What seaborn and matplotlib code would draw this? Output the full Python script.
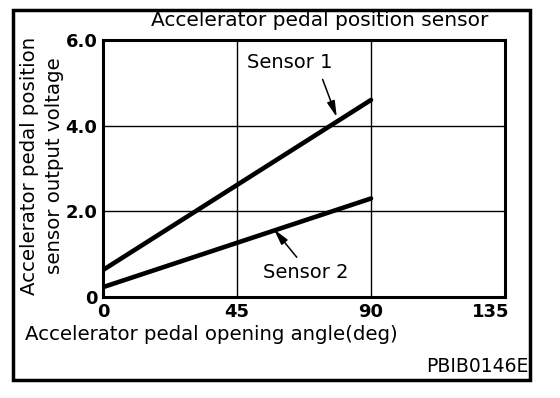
import numpy as np
import pandas as pd
import seaborn as sns
import matplotlib.pyplot as plt
from matplotlib.patches import Rectangle
from matplotlib.transforms import ScaledTranslation

# data
angle = [0, 90]
sensor1 = [0.63, 4.6]
sensor2 = [0.23, 2.3]
xticks = [0, 45, 90, 135]
yticks = [0, 2, 4, 6]
ytick_labels = ['0', '2.0', '4.0', '6.0']

df = pd.DataFrame({'angle': angle * 2,
                   'voltage': sensor1 + sensor2,
                   'sensor': ['Sensor 1'] * 2 + ['Sensor 2'] * 2})

sns.set_style('white')
plt.rcParams['font.family'] = ['DejaVu Sans']
plt.rcParams['text.color'] = 'black'
plt.rcParams['xtick.color'] = 'black'
plt.rcParams['ytick.color'] = 'black'

fig = plt.figure(figsize=(5.6, 3.98), dpi=100)
ax = fig.add_axes([103 / 560, 1 - 297 / 398, 402 / 560, 257 / 398])

sns.lineplot(data=df, x='angle', y='voltage', units='sensor', estimator=None,
             color='black', linewidth=3.3, ax=ax, legend=False)

ax.set_xlim(0, 135)
ax.set_ylim(0, 6)
ax.set_xticks(xticks)
ax.set_yticks(yticks)
ax.set_xticklabels([str(t) for t in xticks], fontsize=13, fontweight='bold')
ax.set_yticklabels(ytick_labels, fontsize=13, fontweight='bold')
ax.tick_params(length=0, pad=4)
ax.set_xlabel('')
ax.set_ylabel('')
ax.grid(True, color='black', linewidth=1)
for s in ax.spines.values():
    s.set_color('black')
    s.set_linewidth(2.2)

# last x label sits inside the frame in the original
last = ax.get_xticklabels()[-1]
last.set_ha('right')
last.set_transform(last.get_transform() + ScaledTranslation(4 / 100, 0, fig.dpi_scale_trans))

head = '-|>,head_width=0.2,head_length=0.8'
ax.annotate('Sensor 1', xy=(78.5, 4.2), xytext=(62.8, 5.47), ha='center', va='center',
            fontsize=14,
            arrowprops=dict(arrowstyle=head, color='black', lw=1.1, shrinkA=3, shrinkB=0,
                            mutation_scale=12, relpos=(0.85, 0)))
ax.annotate('Sensor 2', xy=(57.4, 1.58), xytext=(68, 0.58), ha='center', va='center',
            fontsize=14,
            arrowprops=dict(arrowstyle=head, color='black', lw=1.1, shrinkA=2, shrinkB=0,
                            mutation_scale=12, relpos=(0.45, 1)))

fig.text(320 / 560, 1 - 21 / 398, 'Accelerator pedal position sensor',
         ha='center', va='center', fontsize=14.5)
fig.text(25 / 560, 1 - 335 / 398, 'Accelerator pedal opening angle(deg)',
         ha='left', va='center', fontsize=14.2)
fig.text(42 / 560, 1 - 166 / 398, 'Accelerator pedal position\nsensor output voltage',
         ha='center', va='center', rotation=90, fontsize=14.2, linespacing=1.45)
fig.text(528 / 560, 1 - 366 / 398, 'PBIB0146E', ha='right', va='center', fontsize=13.5)

fig.patches.append(Rectangle((13 / 560, 1 - 380 / 398), 517 / 560, 370 / 398,
                             transform=fig.transFigure, fill=False,
                             edgecolor='black', linewidth=2.5))

fig.savefig('out.png', dpi=100)
